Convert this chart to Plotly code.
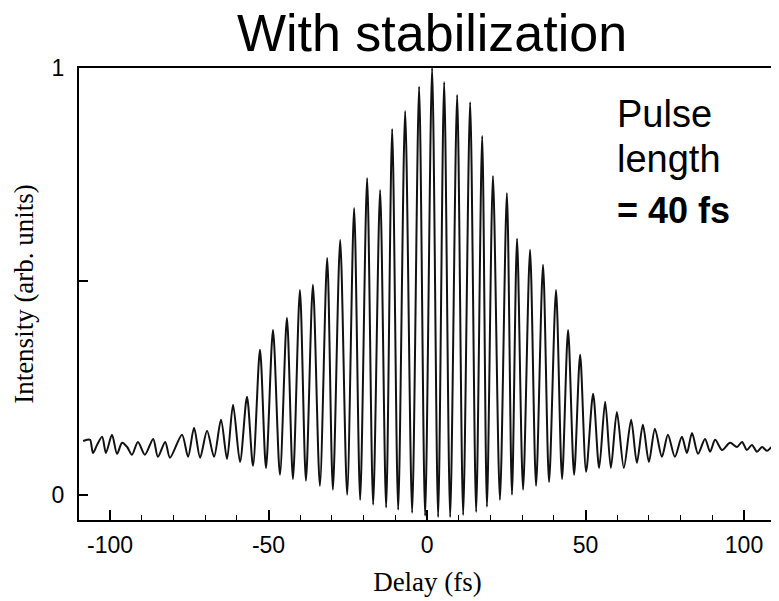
import plotly.graph_objects as go

# Delay (fs) / intensity values
noise_left_x = [-108.5, -107.3, -106.3, -105.4, -104.1, -102.5, -101.3, -99.4, -97.8, -96.2,
                -94.6, -93.1, -91.2, -89.0, -86.4, -84.9, -82.6, -81.1]
noise_left_y = [0.126, 0.129, 0.129, 0.098, 0.117, 0.136, 0.098, 0.141, 0.096, 0.122,
                0.112, 0.094, 0.124, 0.094, 0.131, 0.089, 0.124, 0.087]

peak_x = [-77.3, -73.5, -69.4, -65.0, -61.2, -56.8, -52.7, -48.6, -44.2, -40.1, -36.0, -31.5,
          -27.4, -23.0, -18.9, -14.8, -11.0, -6.9, -2.5, 1.6, 5.4, 9.5, 13.6, 17.4, 20.8, 25.2,
          28.4, 32.5, 36.6, 40.7, 44.5, 48.3, 52.4, 56.2, 59.9, 64.4, 68.1, 71.9, 76.0, 80.4,
          83.6, 87.7, 90.9, 95.6]
peak_y = [0.141, 0.157, 0.150, 0.176, 0.211, 0.230, 0.340, 0.386, 0.415, 0.480, 0.492, 0.555,
          0.597, 0.672, 0.742, 0.714, 0.857, 0.899, 0.956, 1.000, 0.967, 0.937, 0.920, 0.841,
          0.747, 0.707, 0.600, 0.574, 0.539, 0.480, 0.386, 0.328, 0.237, 0.218, 0.194, 0.176,
          0.164, 0.155, 0.141, 0.136, 0.145, 0.131, 0.129, 0.122]

trough_x = [-75.4, -71.6, -67.2, -63.1, -59.0, -54.9, -50.8, -46.4, -42.3, -38.2, -33.8, -29.7,
            -25.2, -21.1, -17.0, -12.9, -9.1, -4.7, -0.6, 3.5, 7.3, 11.4, 15.5, 18.9, 23.0,
            26.8, 30.3, 34.4, 38.5, 42.6, 46.4, 50.2, 54.3, 58.0, 62.1, 66.2, 70.0, 74.1, 78.2,
            82.0, 85.5, 89.3, 93.1]
trough_y = [0.089, 0.087, 0.089, 0.084, 0.077, 0.068, 0.063, 0.047, 0.037, 0.033, 0.021, 0.012,
            0.000, -0.012, -0.023, -0.030, -0.035, -0.042, -0.049, -0.052, -0.052, -0.047,
            -0.040, -0.028, -0.012, 0.000, 0.012, 0.021, 0.030, 0.037, 0.047, 0.054, 0.063,
            0.063, 0.063, 0.075, 0.077, 0.089, 0.089, 0.098, 0.096, 0.101, 0.105]

noise_right_x = [97.8, 99.4, 100.9, 102.5, 104.1, 105.7, 107.3, 108.8, 110.4]
noise_right_y = [0.112, 0.124, 0.105, 0.117, 0.101, 0.112, 0.103, 0.112, 0.110]

x_major_ticks = [-100, -50, 0, 50, 100]
x_tick_labels = ["-100", "-50", "0", "50", "100"]
y_ticks = [0, 0.5, 1]
y_tick_labels = ["0", "", "1"]

# assemble the trace from the read points
pts = list(zip(noise_left_x, noise_left_y)) + list(zip(peak_x, peak_y)) + \
      list(zip(trough_x, trough_y)) + list(zip(noise_right_x, noise_right_y))
pts.sort(key=lambda p: p[0])
xs = [p[0] for p in pts]
ys = [p[1] for p in pts]

fig = go.Figure()
fig.add_trace(go.Scatter(x=xs, y=ys, mode="lines",
                         line=dict(color="#111111", width=2, shape="spline", smoothing=0.8),
                         hoverinfo="skip", showlegend=False))

W, H = 779, 601
OFF = 8  # the page body offsets the figure by 8 px
# target plot area in page pixels: left 79, right 776, top 68, bottom 520
L, T = 79 - OFF, 68 - OFF
R = W - (776 - OFF)
B = H - (520 - OFF)

fig.update_layout(
    width=W, height=H,
    margin=dict(l=L, r=R, t=T, b=B, autoexpand=False),
    paper_bgcolor="white", plot_bgcolor="white",
    showlegend=False,
    title=dict(text="With stabilization", x=(432 - OFF) / W, xref="container", xanchor="center",
               y=1 - (33 - OFF) / H, yref="container", yanchor="middle",
               font=dict(family="Liberation Sans, Arial", size=52, color="black")),
)

fig.update_xaxes(
    range=[-109.8, 110.1], automargin=False,
    tickvals=x_major_ticks, ticktext=x_tick_labels,
    ticks="inside", ticklen=10, tickwidth=1.5, tickcolor="black",
    minor=dict(dtick=10, ticks="inside", ticklen=5, tickwidth=1.2, tickcolor="black"),
    showline=True, linecolor="black", linewidth=2, mirror=True,
    showgrid=False, zeroline=False,
    tickfont=dict(family="Liberation Sans, Arial", size=23, color="black"),
    ticklabelstandoff=3,
    title=dict(text="Delay (fs)", standoff=16,
               font=dict(family="Liberation Serif, Times New Roman", size=27, color="black")),
)
fig.update_yaxes(
    range=[-0.059, 1.0], automargin=False,
    tickvals=y_ticks, ticktext=y_tick_labels,
    ticks="inside", ticklen=9, tickwidth=1.5, tickcolor="black",
    showline=True, linecolor="black", linewidth=2, mirror=True,
    showgrid=False, zeroline=False,
    tickfont=dict(family="Liberation Sans, Arial", size=23, color="black"),
    ticklabelstandoff=8,
    title=dict(text="Intensity (arb. units)", standoff=10,
               font=dict(family="Liberation Serif, Times New Roman", size=27, color="black")),
)

plot_h = 520 - 68
plot_w = 776 - 79
def py(page_y):
    return (520 - page_y) / plot_h
def px(page_x):
    return (page_x - 79) / plot_w

for txt, yc, bold, fs in [("Pulse", 114, False, 38), ("length", 159, False, 38),
                          ("= 40 fs", 210, True, 36)]:
    fig.add_annotation(text=("<b>%s</b>" % txt) if bold else txt, xref="paper", yref="paper",
                       x=px(615), y=py(yc), xanchor="left", yanchor="middle", showarrow=False,
                       font=dict(family="Liberation Sans, Arial", size=fs, color="black"))

fig.write_html("out.html")
